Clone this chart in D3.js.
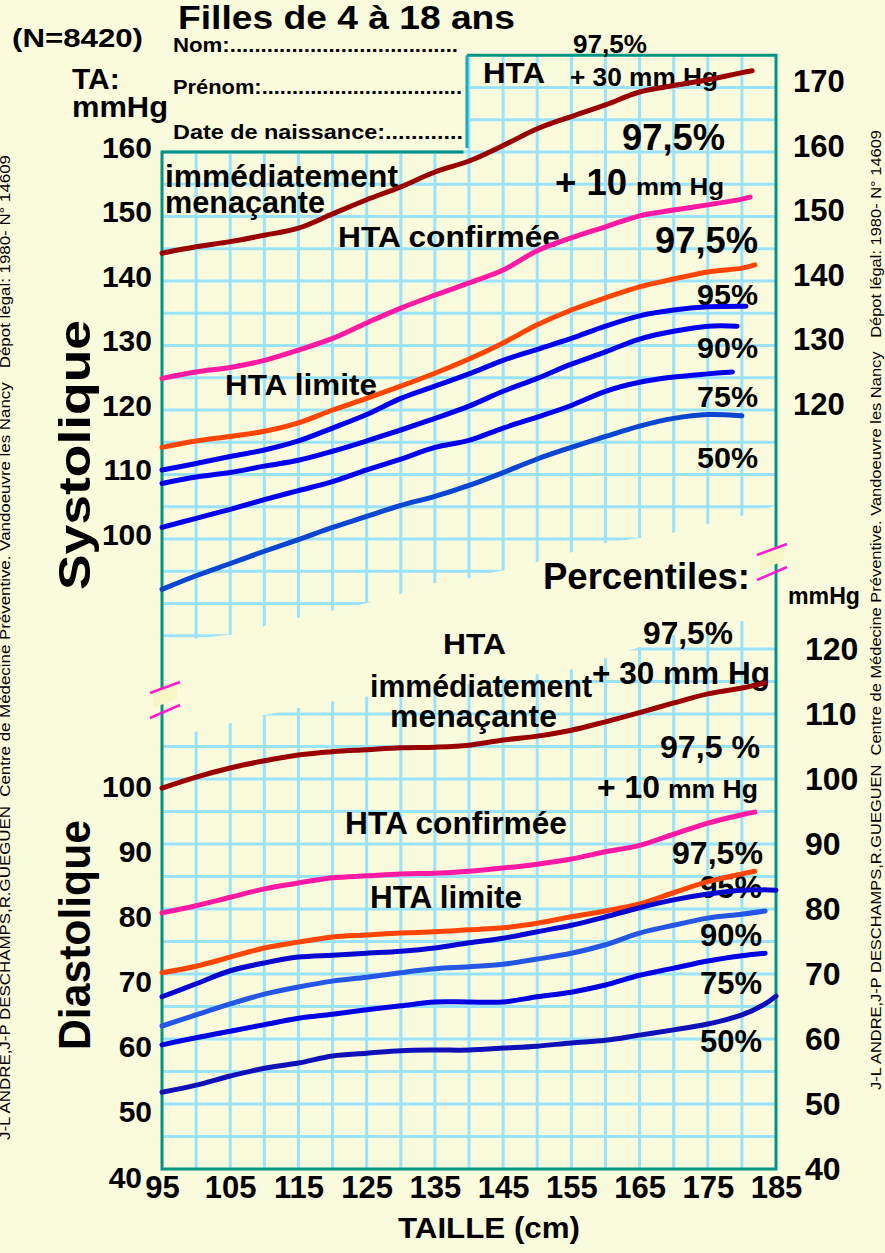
<!DOCTYPE html>
<html>
<head>
<meta charset="utf-8">
<script src="https://cdn.jsdelivr.net/npm/d3@7"></script>
<style>
  body { margin: 0; background: #fafadc; }
  svg text { font-family: "Liberation Sans", Arial, sans-serif; font-weight: bold; fill: #000; }
</style>
</head>
<body>
<svg id="chart" width="885" height="1253"></svg>
<script>
// tailles (cm) communes a toutes les courbes
var tailles = [95, 100, 105, 110, 115, 120, 125, 130, 135, 140, 145, 150, 155, 160, 165, 170, 175, 180];

// systolique (mmHg) -- les derniers points vont avec les tailles "fin"
var sysP975p30 = [144.3, 145.3, 146.1, 147.1, 148.2, 150.4, 152.6, 154.6, 156.9, 158.6, 161.0, 163.6, 165.5, 167.3, 169.3, 170.3, 171.2, 172.3, 172.6];
var sysP975p10 = [124.9, 125.9, 126.6, 127.7, 129.3, 131.1, 133.5, 135.8, 137.8, 139.7, 141.7, 144.7, 146.7, 148.4, 150.1, 151.0, 151.8, 152.7, 153.0];
var sysP975 = [114.2, 115.2, 115.9, 116.7, 118.0, 120.0, 121.8, 123.7, 125.7, 127.9, 130.4, 133.2, 135.5, 137.4, 139.1, 140.3, 141.4, 142.0, 142.5];
var sysP95 = [110.7, 111.7, 112.8, 113.8, 115.2, 117.2, 119.3, 121.8, 123.7, 125.6, 127.7, 129.4, 131.1, 133.0, 134.6, 135.5, 136.0, 136.1];
var sysP90 = [108.6, 109.6, 110.3, 111.3, 112.2, 113.6, 115.2, 116.9, 118.7, 120.6, 122.9, 124.9, 127.1, 129.0, 131.0, 132.2, 133.0, 133.0];
var sysP75 = [101.8, 103.2, 104.6, 106.1, 107.5, 108.9, 110.7, 112.4, 114.2, 115.3, 117.2, 118.9, 120.7, 122.9, 124.3, 125.1, 125.6, 125.9];
var sysP50 = [92.2, 94.3, 96.2, 98.1, 99.9, 101.8, 103.5, 105.2, 106.6, 108.3, 110.3, 112.4, 114.2, 115.9, 117.5, 118.7, 119.3, 119.1];
var sysFin = [[181.5], [181.2], [181.9], [180.6], [179.3], [178.6], [180]];

// diastolique (mmHg)
var diaP975p30 = [98.6, 100.3, 101.7, 102.8, 103.7, 104.2, 104.5, 104.8, 104.9, 105.2, 106.0, 106.6, 107.5, 108.8, 110.2, 111.7, 113.1, 114.0, 114.8];
var diaP975p10 = [79.4, 80.5, 81.8, 83.1, 84.0, 84.8, 85.1, 85.4, 85.5, 85.8, 86.3, 86.9, 87.7, 88.8, 89.8, 91.5, 93.2, 94.5, 94.9];
var diaP975 = [70.2, 71.2, 72.6, 74.0, 74.9, 75.7, 76.0, 76.3, 76.5, 76.8, 77.1, 77.8, 78.8, 79.7, 80.8, 82.5, 84.2, 85.4, 85.8];
var diaP95 = [66.5, 68.5, 70.5, 71.7, 72.6, 72.9, 73.2, 73.5, 74.0, 74.8, 75.5, 76.5, 77.5, 78.8, 80.2, 81.4, 82.3, 82.9, 82.9];
var diaP90 = [62.0, 63.7, 65.4, 66.9, 68.0, 68.9, 69.5, 70.2, 70.8, 71.1, 71.5, 72.3, 73.2, 74.5, 76.3, 77.5, 78.6, 79.2, 79.7];
var diaP75 = [59.1, 60.2, 61.2, 62.2, 63.2, 63.8, 64.5, 65.1, 65.7, 65.7, 65.7, 66.5, 67.2, 68.3, 69.8, 70.9, 72.0, 72.8, 73.2];
var diaP50 = [51.8, 52.9, 54.3, 55.5, 56.3, 57.4, 57.8, 58.2, 58.3, 58.3, 58.6, 58.9, 59.4, 59.8, 60.6, 61.4, 62.3, 63.7, 65.4, 66.6];
var diaFin = [[183.4], [181.9], [181.9], [185], [183.4], [183.4], [183.4, 185]];

var couleurs = ["#990000", "#ff1aa3", "#ff4500", "#0000ee", "#0000ee", "#0000ee", "#0a46d2"];
var couleursDia = ["#990000", "#ff1aa3", "#ff4500", "#0808d0", "#2457e6", "#0000e6", "#1010b8"];

// graduations
var ticksTaille = [95, 105, 115, 125, 135, 145, 155, 165, 175, 185];
var ticksSysGauche = [100, 110, 120, 130, 140, 150, 160];
var ticksSysDroite = [120, 130, 140, 150, 160, 170];
var ticksDia = [40, 50, 60, 70, 80, 90, 100];
var ticksDiaDroite = [40, 50, 60, 70, 80, 90, 100, 110, 120];

// coupures de la grille (taille, mmHg)
var coupeSys = [[95, 83.9], [105, 85.2], [115, 87.8], [127, 90.5], [134.7, 93.1], [140, 93.9], [149.8, 96.4], [159.6, 99.3], [169.5, 100.9], [179.4, 103.4], [185, 105.2]];
var coupeDia = [[95, 106], [109.4, 109.7], [121, 112.2], [135.8, 114], [154.8, 116.8], [166, 120.6], [174, 123.7], [185, 124.8]];

var svg = d3.select("#chart");
svg.append("rect").attr("width", 885).attr("height", 1253).attr("fill", "#fafadc");

var x = d3.scaleLinear().domain([95, 185]).range([162, 776]);
var ySys = d3.scaleLinear().domain([160, 100]).range([152, 539]);
var yDia = d3.scaleLinear().domain([120, 40]).range([649, 1169]);

var defs = svg.append("defs");
var clipSys = coupeSys.map(function (d) { return [x(d[0]), ySys(d[1])]; }).reverse();
clipSys.unshift([x(95) - 5, ySys(177)], [x(185) + 5, ySys(177)]);
defs.append("clipPath").attr("id", "clipSys").append("polygon")
	.attr("points", clipSys.map(function (p) { return p.join(","); }).join(" "));
var clipDia = coupeDia.map(function (d) { return [x(d[0]), yDia(d[1])]; });
clipDia.push([x(185) + 5, yDia(38)], [x(95) - 5, yDia(38)]);
defs.append("clipPath").attr("id", "clipDia").append("polygon")
	.attr("points", clipDia.map(function (p) { return p.join(","); }).join(" "));

var gridColor = "#9be3fc";

// grille systolique
var gSys = svg.append("g").attr("clip-path", "url(#clipSys)")
	.attr("stroke", gridColor).attr("stroke-width", 3);
d3.range(85, 175, 5).forEach(function (v) {
	gSys.append("line")
	.attr("x1", v > 160 ? x(139.7) : x(95)).attr("x2", x(185))
	.attr("y1", ySys(v)).attr("y2", ySys(v));
});
d3.range(100, 185, 5).forEach(function (t) {
	gSys.append("line")
	.attr("x1", x(t)).attr("x2", x(t))
	.attr("y1", t >= 140 ? ySys(175) : ySys(160)).attr("y2", ySys(80));
});

// grille diastolique
var gDia = svg.append("g").attr("clip-path", "url(#clipDia)")
	.attr("stroke", gridColor).attr("stroke-width", 3);
d3.range(45, 125, 5).forEach(function (v) {
	gDia.append("line").attr("x1", x(95)).attr("x2", x(185))
	.attr("y1", yDia(v)).attr("y2", yDia(v));
});
d3.range(100, 185, 5).forEach(function (t) {
	gDia.append("line").attr("x1", x(t)).attr("x2", x(t))
	.attr("y1", yDia(128)).attr("y2", yDia(40));
});

// cadre
var teal = "#009485";
svg.append("path")
	.attr("d", "M" + x(139.7) + "," + ySys(175) + "H" + x(185) + "V" + yDia(40) +
		"H" + x(95) + "V" + ySys(160) + "H" + x(139.2))
	.attr("fill", "none").attr("stroke", teal).attr("stroke-width", 3);
svg.append("line")
	.attr("x1", x(139.7)).attr("x2", x(139.7)).attr("y1", ySys(175)).attr("y2", ySys(160.6))
	.attr("stroke", "#19aab8").attr("stroke-width", 3);

// marques de coupure
function coupure(cx, cy) {
	var g = svg.append("g").attr("transform", "translate(" + cx + "," + cy + ")");
	g.append("polygon").attr("points", "-12,-2 12,-11 12,6 -12,15").attr("fill", "#f6f7c4");
	g.append("line").attr("x1", -15).attr("y1", 0).attr("x2", 15).attr("y2", -11)
	.attr("stroke", "#ff1ad0").attr("stroke-width", 2.5);
	g.append("line").attr("x1", -15).attr("y1", 25).attr("x2", 15).attr("y2", 12)
	.attr("stroke", "#ff1ad0").attr("stroke-width", 2.5);
}
coupure(x(95) + 3, 693);
coupure(x(185) - 4, 555);

// textes
function label(s, px, py, size, w) {
	var t = svg.append("text").attr("x", px).attr("y", py)
	.attr("font-size", size).text(s);
	if (w) t.attr("textLength", w).attr("lengthAdjust", "spacingAndGlyphs");
	return t;
}
function points(n) { return new Array(n + 1).join("."); }

label("Filles de 4 à 18 ans", 178, 29, 33, 337);
label("(N=8420)", 12, 47, 26, 131);
label("Nom:" + points(37), 173, 52, 21, 285);
label("Prénom:" + points(33), 173, 94, 21, 289);
label("Date de naissance:" + points(12), 173, 139, 21, 290);
label("TA:", 72, 89, 30);
label("mmHg", 72, 117, 30, 96);

label("HTA", 483, 83, 29, 62);
label("97,5%", 573, 53, 25, 74);
label("+ 30 mm Hg", 570, 86, 25, 148);
label("97,5%", 622, 150, 36, 103);
label("+ 10", 555, 195, 36, 72);
label("mm Hg", 636, 195, 24, 88);
label("immédiatement", 165, 187, 32, 233);
label("menaçante", 165, 213, 31, 160);
label("HTA confirmée", 338, 247, 30, 222);
label("97,5%", 655, 253, 36, 103);
label("95%", 697, 305, 30, 61);
label("90%", 697, 358, 30, 61);
label("75%", 697, 407, 30, 61);
label("50%", 697, 468, 30, 61);
label("HTA limite", 225, 395, 30, 152);
label("Percentiles:", 543, 589, 36, 207);
label("mmHg", 788, 604, 23, 72);

label("HTA", 443, 654, 30, 63);
label("97,5%", 643, 644, 31, 90);
label("+ 30 mm Hg", 592, 684, 31, 178);
label("immédiatement", 370, 697, 31, 222);
label("menaçante", 390, 727, 31, 167);
label("97,5 %", 660, 758, 31, 100);
label("+ 10", 597, 798, 31, 63);
label("mm Hg", 668, 798, 25, 90);
label("HTA confirmée", 345, 834, 31, 222);
label("97,5%", 672, 864, 32, 91);
label("HTA limite", 370, 908, 31, 152);
label("95%", 700, 898, 31, 62);
label("90%", 700, 946, 31, 62);
label("75%", 700, 994, 31, 62);
label("50%", 700, 1052, 31, 62);

label("TAILLE (cm)", 398, 1238, 30, 182);

svg.append("text").attr("transform", "translate(90,590) rotate(-90)")
	.attr("font-size", 44).attr("textLength", 270).attr("lengthAdjust", "spacingAndGlyphs")
	.text("Systolique");
svg.append("text").attr("transform", "translate(90,1050) rotate(-90)")
	.attr("font-size", 44).attr("textLength", 230).attr("lengthAdjust", "spacingAndGlyphs")
	.text("Diastolique");

var mention = "J-L ANDRE,J-P DESCHAMPS,R.GUEGUEN  Centre de Médecine Préventive. Vandoeuvre les Nancy   Dépot légal: 1980- N° 14609";
svg.append("text").attr("transform", "translate(10,1140) rotate(-90)")
	.style("font-family", "'Liberation Sans Narrow', 'Liberation Sans', sans-serif")
	.style("font-weight", "normal").style("white-space", "pre")
	.attr("font-size", 14).attr("textLength", 985).attr("lengthAdjust", "spacingAndGlyphs")
	.text(mention);
svg.append("text").attr("transform", "translate(881,1090) rotate(-90)")
	.style("font-family", "'Liberation Sans Narrow', 'Liberation Sans', sans-serif")
	.style("font-weight", "normal").style("white-space", "pre")
	.attr("font-size", 14).attr("textLength", 960).attr("lengthAdjust", "spacingAndGlyphs")
	.text(mention);

// axes
function styleAxe(g, size, dy) {
	g.select(".domain").remove();
	g.selectAll("text").attr("font-size", size).attr("dy", dy)
	.attr("font-family", "'Liberation Sans', Arial, sans-serif").attr("font-weight", "bold")
	.attr("fill", "#000");
}
svg.append("g").attr("transform", "translate(" + x(95) + ",0)")
	.call(d3.axisLeft(ySys).tickValues(ticksSysGauche).tickSize(0).tickPadding(10))
	.call(styleAxe, 30, "0.17em");
svg.append("g").attr("transform", "translate(" + x(185) + ",0)")
	.call(d3.axisRight(ySys).tickValues(ticksSysDroite).tickSize(0).tickPadding(17))
	.call(styleAxe, 31, "0.13em");
var axeDia = svg.append("g").attr("transform", "translate(" + x(95) + ",0)")
	.call(d3.axisLeft(yDia).tickValues(ticksDia).tickSize(0).tickPadding(10))
	.call(styleAxe, 30, "0.57em");
axeDia.selectAll(".tick").filter(function (d) { return d === 40; })
	.select("text").attr("x", -20).attr("dy", "0.6em");
svg.append("g").attr("transform", "translate(" + x(185) + ",0)")
	.call(d3.axisRight(yDia).tickValues(ticksDiaDroite).tickSize(0).tickPadding(29))
	.call(styleAxe, 32, "0.34em");
svg.append("g").attr("transform", "translate(0," + yDia(40) + ")")
	.call(d3.axisBottom(x).tickValues(ticksTaille).tickSize(0).tickPadding(7))
	.call(styleAxe, 31, "0.71em");

// courbes
function serie(vals, fin) {
	var n = vals.length - fin.length;
	return vals.map(function (v, i) { return [i < n ? tailles[i] : fin[i - n], v]; });
}
var lineSys = d3.line().x(function (d) { return x(d[0]); }).y(function (d) { return ySys(d[1]); })
	.curve(d3.curveCatmullRom);
var lineDia = d3.line().x(function (d) { return x(d[0]); }).y(function (d) { return yDia(d[1]); })
	.curve(d3.curveCatmullRom);

var sysSeries = [sysP975p30, sysP975p10, sysP975, sysP95, sysP90, sysP75, sysP50];
var diaSeries = [diaP975p30, diaP975p10, diaP975, diaP95, diaP90, diaP75, diaP50];

svg.append("g").selectAll("path").data(sysSeries).join("path")
	.attr("d", function (d, i) { return lineSys(serie(d, sysFin[i])); })
	.attr("fill", "none").attr("stroke", function (d, i) { return couleurs[i]; })
	.attr("stroke-width", 5).attr("stroke-linecap", "round").attr("stroke-linejoin", "round");
svg.append("g").selectAll("path").data(diaSeries).join("path")
	.attr("d", function (d, i) { return lineDia(serie(d, diaFin[i])); })
	.attr("fill", "none").attr("stroke", function (d, i) { return couleursDia[i]; })
	.attr("stroke-width", 5).attr("stroke-linecap", "round").attr("stroke-linejoin", "round");
</script>
</body>
</html>
